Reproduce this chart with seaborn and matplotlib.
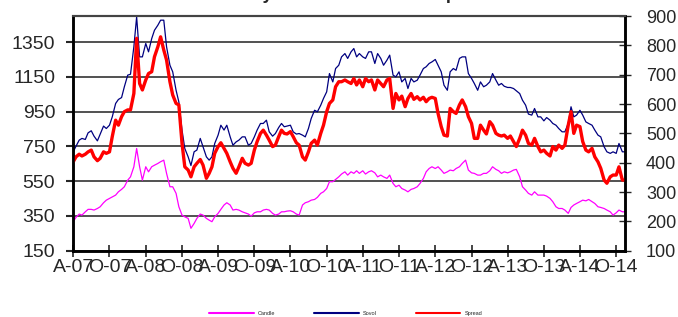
import matplotlib
matplotlib.use("Agg")
import matplotlib.pyplot as plt
import numpy as np
import pandas as pd
import seaborn as sns

# half-monthly readings, Apr 2007 .. Nov 2014
candle = [317, 342, 361, 355, 374, 388, 388, 384, 393, 403, 426, 441, 451, 460, 470, 489,
          503, 518, 556, 575, 633, 738, 633, 556, 633, 604, 633, 642, 652, 662, 671, 595,
          518, 518, 480, 403, 355, 345, 336, 279, 307, 336, 361, 355, 336, 326, 317, 345,
          365, 388, 413, 426, 413, 384, 388, 384, 374, 368, 361, 349, 368, 374, 374, 384,
          388, 384, 365, 355, 361, 374, 374, 378, 380, 374, 361, 355, 413, 426, 432, 441,
          445, 457, 480, 489, 508, 547, 547, 560, 575, 591, 604, 585, 604, 595, 610, 595,
          610, 591, 604, 610, 598, 575, 585, 575, 566, 585, 537, 518, 527, 508, 499, 489,
          503, 508, 518, 537, 566, 604, 623, 633, 623, 633, 614, 595, 604, 614, 610, 623,
          633, 652, 671, 614, 598, 595, 585, 585, 595, 595, 610, 633, 618, 610, 595, 604,
          598, 604, 614, 618, 575, 518, 499, 480, 470, 489, 470, 470, 470, 464, 451, 432,
          403, 393, 393, 384, 365, 399, 413, 422, 432, 441, 437, 445, 432, 422, 403, 399,
          393, 384, 374, 355, 368, 384, 374, 374]

sovol = [719, 751, 786, 796, 790, 828, 840, 809, 782, 821, 867, 853, 872, 920, 997, 1020,
         1031, 1093, 1160, 1165, 1323, 1495, 1265, 1265, 1342, 1294, 1370, 1418, 1447, 1476, 1476, 1323,
         1217, 1179, 1073, 1006, 844, 738, 690, 640, 719, 729, 796, 748, 690, 671, 690, 767,
         815, 872, 844, 872, 805, 757, 776, 786, 805, 805, 757, 767, 805, 844, 882, 882,
         901, 834, 809, 824, 859, 882, 863, 867, 872, 834, 821, 824, 815, 805, 853, 911,
         958, 949, 987, 1026, 1064, 1169, 1121, 1198, 1217, 1265, 1284, 1256, 1294, 1313, 1265, 1284,
         1265, 1256, 1294, 1294, 1227, 1284, 1256, 1217, 1246, 1275, 1160, 1150, 1179, 1121, 1141, 1083,
         1141, 1121, 1131, 1160, 1198, 1208, 1227, 1236, 1250, 1217, 1179, 1102, 1073, 1179, 1198, 1188,
         1256, 1265, 1265, 1169, 1141, 1112, 1073, 1121, 1093, 1102, 1121, 1169, 1131, 1102, 1112, 1096,
         1089, 1089, 1083, 1070, 1054, 1016, 987, 936, 930, 968, 920, 920, 897, 916, 901, 882,
         872, 853, 834, 834, 882, 978, 920, 930, 958, 930, 891, 882, 872, 844, 815, 805,
         748, 719, 710, 719, 710, 767, 719, 719]

spread = [403, 420, 429, 423, 429, 437, 443, 420, 407, 415, 437, 432, 437, 489, 545, 528,
          557, 574, 580, 580, 636, 824, 670, 648, 682, 704, 710, 761, 795, 829, 784, 750,
          676, 631, 602, 597, 466, 386, 375, 352, 386, 398, 411, 392, 347, 364, 386, 432,
          455, 468, 449, 432, 403, 381, 364, 386, 415, 398, 392, 398, 443, 472, 500, 511,
          494, 477, 455, 460, 489, 511, 500, 498, 506, 489, 468, 460, 420, 409, 437, 466,
          477, 460, 500, 528, 574, 602, 614, 659, 676, 676, 682, 676, 670, 687, 665, 682,
          659, 687, 676, 682, 648, 682, 670, 659, 682, 687, 585, 636, 614, 627, 591, 619,
          636, 616, 625, 614, 623, 608, 619, 623, 619, 568, 523, 494, 491, 585, 574, 568,
          597, 614, 591, 557, 534, 483, 483, 528, 511, 498, 540, 528, 500, 494, 491, 494,
          483, 491, 472, 455, 483, 511, 494, 466, 460, 483, 455, 437, 443, 432, 423, 455,
          443, 460, 449, 460, 528, 574, 500, 528, 523, 472, 443, 437, 449, 420, 403, 381,
          341, 330, 352, 358, 358, 386, 341, 341]

dates = pd.date_range("2007-04-01", periods=len(sovol), freq="SMS")
df = pd.DataFrame({"date": dates, "Candle": candle, "Sovol": sovol, "Spread": spread})

sns.set_style("white")
plt.rcParams["font.family"] = ["Liberation Sans", "DejaVu Sans"]

fig, ax = plt.subplots(figsize=(6.78, 3.17), dpi=100)
fig.subplots_adjust(left=0.108, right=0.922, bottom=0.209, top=0.9495)
ax2 = ax.twinx()

sns.lineplot(data=df, x="date", y="Candle", ax=ax, color="#FF00FF", lw=0.9, label="Candle", legend=False)
sns.lineplot(data=df, x="date", y="Sovol", ax=ax, color="#000080", lw=0.9, label="Sovol", legend=False)
sns.lineplot(data=df, x="date", y="Spread", ax=ax2, color="#FF0000", lw=2.4, label="Spread", legend=False)

ax.set_ylim(150, 1500)
ax.set_yticks(np.arange(150, 1351, 200))
ax2.set_ylim(100, 900)
ax2.set_yticks(np.arange(100, 901, 100))
ax.set_xlim(dates[0], dates[-1])

ticks = pd.date_range("2007-04-01", "2014-10-01", freq="6MS")
ax.set_xticks(ticks)
ax.set_xticklabels([d.strftime("%b")[0] + d.strftime("-%y") for d in ticks])

ax.yaxis.grid(True, color="#222222", lw=1.1)
ax.set_axisbelow(True)
ax.set_xlabel("")
ax.set_ylabel("")
ax2.set_ylabel("")

for a in (ax, ax2):
    for s in ("left", "bottom", "right"):
        a.spines[s].set_color("black")
        a.spines[s].set_linewidth(1.8)
    a.spines["top"].set_color("#444444")
    a.spines["top"].set_linewidth(1.5)

ax.tick_params(axis="y", direction="out", length=5, width=1.5, labelsize=14, pad=8, left=True)
ax.tick_params(axis="x", direction="inout", length=8, width=1.2, labelsize=14, pad=2, bottom=True)
ax2.tick_params(axis="y", direction="inout", length=8, width=1.0, labelsize=13, pad=11, right=True)

fig.text(0.52, 1 + 1.0 / 317, "Weekly Sovol and Candle Spread", ha="center", va="baseline",
         fontsize=13, fontweight="bold")

handles = ax.get_lines()[:2] + ax2.get_lines()[:1]
leg = fig.legend(handles, ["Candle", "Sovol", "Spread"], loc="lower center",
                 bbox_to_anchor=(0.51, -0.012), ncol=3, fontsize=4, frameon=False,
                 handlelength=8, columnspacing=7, handletextpad=0.8)
for h in leg.legend_handles:
    h.set_linewidth(1.5)

fig.savefig("out.png", dpi=100)
